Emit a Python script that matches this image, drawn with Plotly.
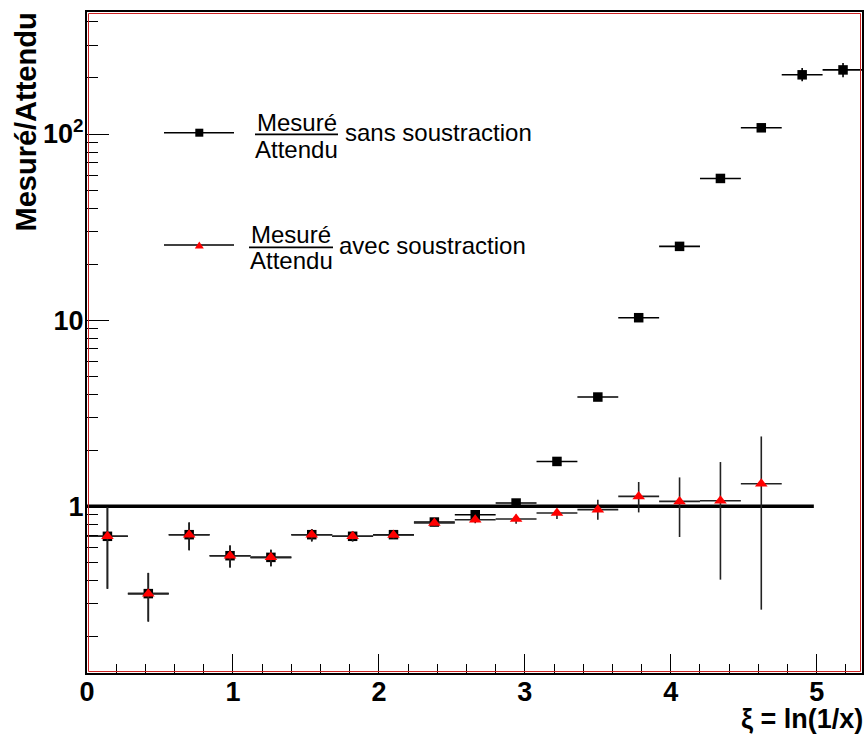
import plotly.graph_objects as go

# ---------------- data ----------------
xi = [0.14, 0.42, 0.70, 0.98, 1.26, 1.54, 1.82, 2.10, 2.38, 2.66,
      2.94, 3.22, 3.50, 3.78, 4.06, 4.34, 4.62, 4.90, 5.18]
bin_half_width = [0.14] * len(xi)

# Mesuré/Attendu sans soustraction
sans_val = [0.689, 0.339, 0.703, 0.542, 0.531, 0.703, 0.689, 0.703, 0.822, 0.90,
            1.04, 1.74, 3.86, 10.3, 24.9, 57.7, 108, 208, 221]
sans_hi = [1.0, 0.438, 0.818, 0.614, 0.584, 0.754, 0.732, 0.73, 0.84, 0.92,
           1.07, 1.78, 3.95, 10.6, 25.6, 59.5, 113, 226, 241]
sans_lo = [0.36, 0.240, 0.579, 0.469, 0.475, 0.647, 0.647, 0.67, 0.80, 0.88,
           1.01, 1.70, 3.77, 10.0, 24.2, 56.0, 103, 192, 202]

# Mesuré/Attendu avec soustraction
avec_val = [0.689, 0.339, 0.703, 0.542, 0.531, 0.703, 0.689, 0.70, 0.812, 0.846,
            0.853, 0.919, 0.958, 1.129, 1.061, 1.07, 1.32]
avec_hi = [1.0, 0.438, 0.818, 0.614, 0.584, 0.754, 0.732, 0.73, 0.846, 0.88,
           0.90, 0.938, 1.084, 1.349, 1.428, 1.727, 2.37]
avec_lo = [0.36, 0.240, 0.579, 0.469, 0.475, 0.647, 0.647, 0.67, 0.779, 0.81,
           0.805, 0.853, 0.846, 0.926, 0.683, 0.403, 0.278]

ref_line_x = [0.0, 4.98]
ref_line_y = [1.0, 1.0]

y_tick_vals = [1, 10, 100]
y_tick_text = ["1", "10", "10<sup>2</sup>"]
y_minor_vals = [0.2, 0.3, 0.4, 0.5, 0.6, 0.7, 0.8, 0.9,
                2, 3, 4, 5, 6, 7, 8, 9,
                20, 30, 40, 50, 60, 70, 80, 90,
                200, 300, 400]
x_tick_vals = [0, 1, 2, 3, 4, 5]

FONT = "Liberation Sans, Arial, Helvetica, sans-serif"

fig = go.Figure()

fig.add_trace(go.Scatter(
    x=ref_line_x, y=ref_line_y, mode="lines",
    line=dict(color="black", width=3.5), showlegend=False, hoverinfo="skip"))

n_s = len(sans_val)
fig.add_trace(go.Scatter(
    x=xi[:n_s], y=sans_val, mode="markers",
    marker=dict(symbol="square", size=9.5, color="black"),
    error_x=dict(type="data", array=bin_half_width[:n_s], color="black",
                 thickness=1.6, width=0),
    error_y=dict(type="data",
                 array=[h - v for h, v in zip(sans_hi, sans_val)],
                 arrayminus=[v - l for v, l in zip(sans_val, sans_lo)],
                 color="black", thickness=1.6, width=0),
    showlegend=False))

n_a = len(avec_val)
fig.add_trace(go.Scatter(
    x=xi[:n_a], y=avec_val, mode="markers",
    marker=dict(symbol="triangle-up", size=11, color="#ff0000"),
    error_x=dict(type="data", array=bin_half_width[:n_a], color="#222222",
                 thickness=1.6, width=0),
    error_y=dict(type="data",
                 array=[h - v for h, v in zip(avec_hi, avec_val)],
                 arrayminus=[v - l for v, l in zip(avec_val, avec_lo)],
                 color="#222222", thickness=1.6, width=0),
    showlegend=False))

# ---------------- layout ----------------
L, R, T, B = 87, 862, 12, 673
W, H = 866, 740


def px(x):
    return (x - L) / (R - L)


def py(y):
    return (B - y) / (B - T)


fig.update_layout(
    width=W, height=H,
    margin=dict(l=L, r=W - R, t=T, b=H - B, pad=0, autoexpand=False),
    paper_bgcolor="white", plot_bgcolor="white",
    font=dict(family=FONT, color="black"),
    showlegend=False,
    xaxis=dict(
        range=[0, 5.31], showgrid=False, zeroline=False, automargin=False,
        showline=True, linecolor="black", linewidth=2, mirror=True,
        ticks="inside", ticklen=19, tickwidth=1, tickcolor="black",
        tickvals=x_tick_vals,
        tickfont=dict(family=FONT, size=27, weight="bold"),
        ticklabelstandoff=-6,
        minor=dict(dtick=0.2, ticks="inside", ticklen=9, tickwidth=1,
                   tickcolor="black", showgrid=False),
    ),
    yaxis=dict(
        type="log", range=[-0.8963, 2.6556], showgrid=False, zeroline=False,
        automargin=False,
        showline=True, linecolor="black", linewidth=2, mirror=True,
        ticks="inside", ticklen=22, tickwidth=1, tickcolor="black",
        tickvals=y_tick_vals, ticktext=y_tick_text,
        tickfont=dict(family=FONT, size=27, weight="bold"),
        ticklabelstandoff=-4,
        minor=dict(tickvals=y_minor_vals, ticks="inside", ticklen=11,
                   tickwidth=1, tickcolor="black", showgrid=False),
    ),
)

shapes = []
# red inner frame (ROOT style)
shapes.append(dict(type="rect", xref="paper", yref="paper",
                   x0=px(L + 1.5), x1=px(R - 1.5), y0=py(B - 1.5), y1=py(T + 1.5),
                   line=dict(color="#cc2222", width=1)))

annotations = []


def legend_entry(yc, marker, label, frac_x0, frac_x1, text_x, y_top, y_bar, y_bot):
    shapes.append(dict(type="line", xref="paper", yref="paper",
                       x0=px(164), x1=px(234), y0=py(yc), y1=py(yc),
                       line=dict(color="black", width=1.5)))
    cx = 199.3
    if marker == "square":
        s = 4
        shapes.append(dict(type="rect", xref="paper", yref="paper",
                           x0=px(cx - s), x1=px(cx + s), y0=py(yc + s), y1=py(yc - s),
                           fillcolor="black", line=dict(color="black", width=0)))
    else:
        w, h = 4.5, 7
        path = "M {} {} L {} {} L {} {} Z".format(
            px(cx - w), py(yc + h / 2), px(cx + w), py(yc + h / 2), px(cx), py(yc - h / 2))
        shapes.append(dict(type="path", xref="paper", yref="paper", path=path,
                           fillcolor="#ff0000", line=dict(color="#ff0000", width=0)))
    shapes.append(dict(type="line", xref="paper", yref="paper",
                       x0=px(frac_x0), x1=px(frac_x1), y0=py(y_bar), y1=py(y_bar),
                       line=dict(color="black", width=1.8)))
    mid = (frac_x0 + frac_x1) / 2
    annotations.append(dict(xref="paper", yref="paper", x=px(mid), y=py(y_top),
                            text="Mesuré", showarrow=False, xanchor="center",
                            yanchor="middle", font=dict(family=FONT, size=24)))
    annotations.append(dict(xref="paper", yref="paper", x=px(mid), y=py(y_bot),
                            text="Attendu", showarrow=False, xanchor="center",
                            yanchor="middle", font=dict(family=FONT, size=24)))
    annotations.append(dict(xref="paper", yref="paper", x=px(text_x), y=py(yc),
                            text=label, showarrow=False, xanchor="left",
                            yanchor="middle", font=dict(family=FONT, size=24)))


legend_entry(132.7, "square", "sans soustraction", 255, 338, 343, 123, 134.3, 149)
legend_entry(245.0, "triangle", "avec soustraction", 249, 333, 337, 235, 247.3, 260)

# axis titles
annotations.append(dict(xref="paper", yref="paper", x=px(26), y=py(11),
                        text="<b>Mesuré/Attendu</b>", textangle=-90, showarrow=False,
                        xanchor="center", yanchor="top",
                        font=dict(family=FONT, size=29)))
annotations.append(dict(xref="paper", yref="paper", x=px(865), y=py(719),
                        text="<b>ξ = ln(1/x)</b>", showarrow=False,
                        xanchor="right", yanchor="middle",
                        font=dict(family=FONT, size=27)))

fig.update_layout(shapes=shapes, annotations=annotations)

fig.write_html(
    "out.html",
    config={"displayModeBar": False},
    post_script="document.body.style.margin='0px';"
                "document.body.style.padding='0px';"
                "document.body.style.overflow='hidden';",
)
